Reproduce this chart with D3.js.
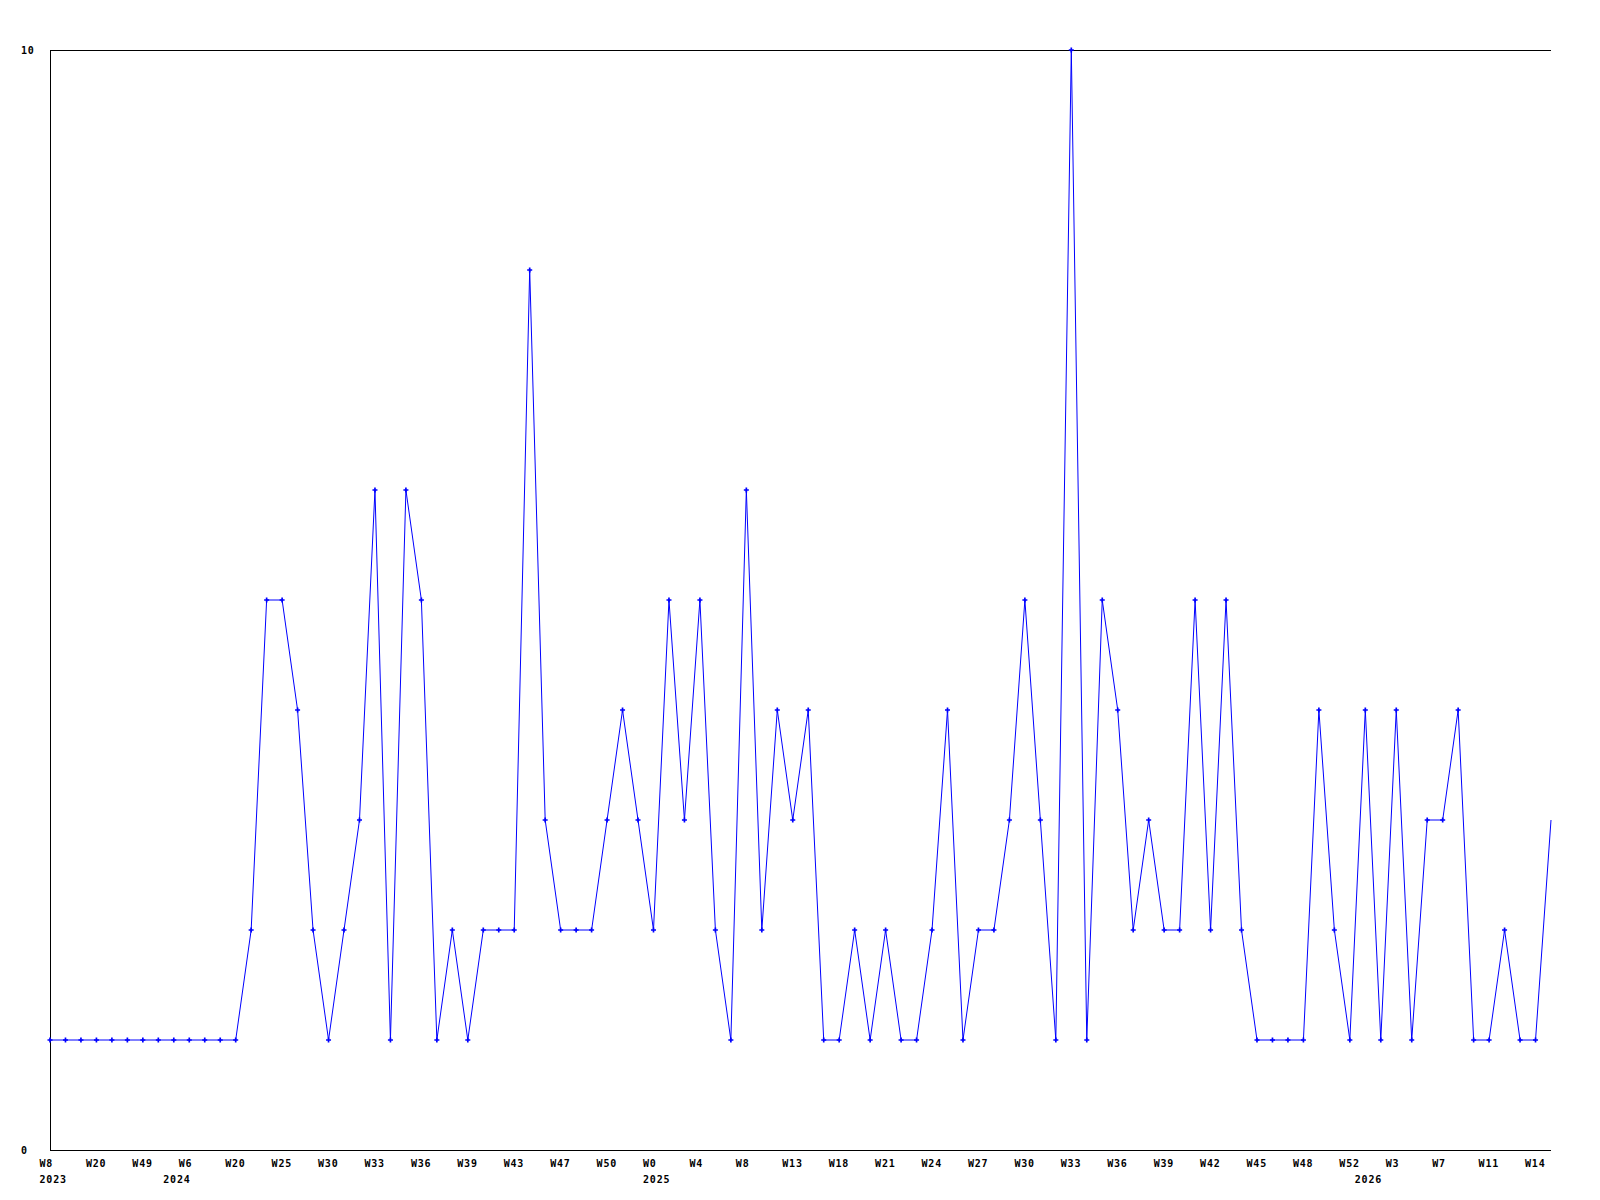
<!DOCTYPE html>
<html>
<head>
<meta charset="utf-8">
<script src="https://cdn.jsdelivr.net/npm/d3@7"></script>
<style>
  body { margin: 0; background: #fff; }
  svg text { font-family: "DejaVu Sans Mono", monospace; font-weight: bold; font-size: 10px; letter-spacing: 0.8px; fill: #000; }
</style>
</head>
<body>
<div id="chart"></div>
<script>
// weekly counts, one per point
var counts = [1,1,1,1,1,1,1,1,1,1,1,1,1,2,5,5,4,2,1,2,
              3,6,1,6,5,1,2,1,2,2,2,8,3,2,2,2,3,4,3,2,
              5,3,5,2,1,6,2,4,3,4,1,1,2,1,2,1,1,2,4,1,
              2,2,3,5,3,1,10,1,5,4,2,3,2,2,5,2,5,2,1,1,
              1,1,4,2,1,4,1,4,1,3,3,4,1,1,2,1,1,3];

// week labels, shown on every third point
var weekLabels = ["W8","W20","W49","W6","W20","W25","W30","W33","W36","W39","W43",
                  "W47","W50","W0","W4","W8","W13","W18","W21","W24","W27","W30",
                  "W33","W36","W39","W42","W45","W48","W52","W3","W7","W11","W14"];
var weekStep = 3;

// year labels and the point where each year starts
var yearLabels = ["2023","2024","2025","2026"];
var yearIndex  = [0, 8, 39, 85];

var yTicks = [0, 10];

drawChart();

function drawChart() {
  var width = 1600, height = 1200;
  var plotLeft = 50, plotRight = 1551, plotTop = 50, plotBottom = 1150;

  var svg = d3.select("#chart").append("svg")
              .attr("width", width)
              .attr("height", height);

  var x = d3.scalePoint()
            .domain(d3.range(counts.length))
            .range([plotLeft, plotRight]);

  var y = d3.scaleLinear()
            .domain([0, 10])
            .range([plotBottom, plotTop]);

  // frame: top, left, bottom (no right side)
  svg.append("path")
     .attr("d", "M" + plotRight + "," + plotTop + "H" + plotLeft + "V" + plotBottom + "H" + plotRight)
     .attr("fill", "none")
     .attr("stroke", "#000")
     .attr("stroke-width", 1)
     .attr("shape-rendering", "crispEdges");

  // y labels
  svg.selectAll("text.ylab")
     .data(yTicks)
     .enter()
     .append("text")
     .attr("class", "ylab")
     .attr("x", 21)
     .attr("y", function(d){ return y(d) + 4; })
     .text(function(d){ return d; });

  // week labels
  svg.selectAll("text.wk")
     .data(weekLabels)
     .enter()
     .append("text")
     .attr("class", "wk")
     .attr("x", function(d,i){ return x(i * weekStep) - 10.5; })
     .attr("y", 1167)
     .text(function(d){ return d; });

  // year labels
  svg.selectAll("text.yr")
     .data(yearLabels)
     .enter()
     .append("text")
     .attr("class", "yr")
     .attr("x", function(d,i){ return x(yearIndex[i]) - 10.5; })
     .attr("y", 1183)
     .text(function(d){ return d; });

  // the line
  var line = d3.line()
               .x(function(d,i){ return x(i); })
               .y(function(d){ return y(d); });

  svg.append("path")
     .datum(counts)
     .attr("d", line)
     .attr("fill", "none")
     .attr("stroke", "#0000ff")
     .attr("stroke-width", 1);

  // markers (last point sits on the edge, no marker there)
  svg.selectAll("path.dot")
     .data(counts.slice(0, counts.length - 1))
     .enter()
     .append("path")
     .attr("class", "dot")
     .attr("d", d3.symbol().type(d3.symbolCross).size(14))
     .attr("transform", function(d,i){ return "translate(" + x(i) + "," + y(d) + ")"; })
     .attr("fill", "#0000ff");
}
</script>
</body>
</html>
